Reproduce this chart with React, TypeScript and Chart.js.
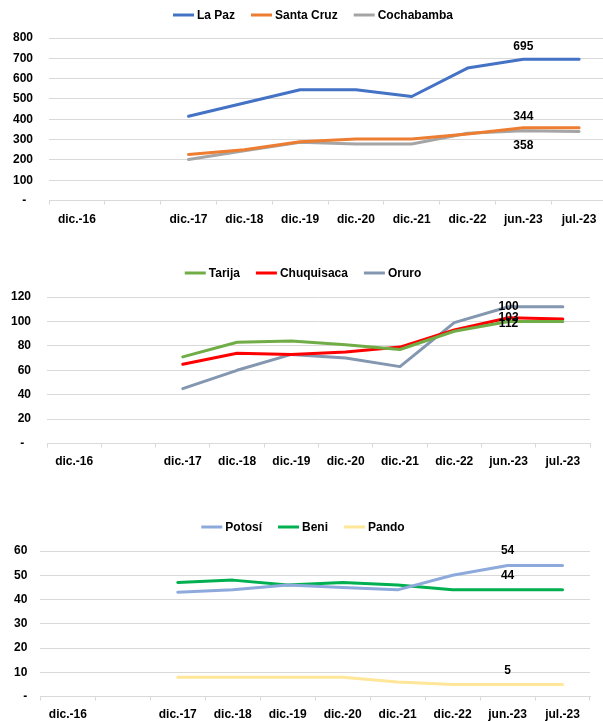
import React, { useEffect, useRef } from 'react';
import { Chart, registerables } from 'chart.js';

Chart.register(...registerables);

const FONT = "'Liberation Sans', Arial, sans-serif";

// ---------- data ----------
const categories = ['dic.-16', '', 'dic.-17', 'dic.-18', 'dic.-19', 'dic.-20', 'dic.-21', 'dic.-22', 'jun.-23', 'jul.-23'];

const laPaz = [null, null, 415, 480, 545, 545, 512, 652, 695, 695];
const santaCruz = [null, null, 227, 250, 290, 303, 303, 328, 358, 359];
const cochabamba = [null, null, 202, 245, 287, 278, 278, 331, 344, 340];

const tarija = [null, null, 71, 83, 84, 81, 77, 92, 100, 100];
const chuquisaca = [null, null, 65, 74, 73, 75, 79, 93, 103, 102];
const oruro = [null, null, 45, 60, 73, 70, 63, 99, 112, 112];

const potosi = [null, null, 43, 44, 46, 45, 44, 50, 54, 54];
const beni = [null, null, 47, 48, 46, 47, 46, 44, 44, 44];
const pando = [null, null, 8, 8, 8, 8, 6, 5, 5, 5];

const yMax1 = 800, yStep1 = 100;
const yMax2 = 120, yStep2 = 20;
const yMax3 = 60, yStep3 = 10;

// value labels: dataset index, category index, text
const labels1 = [
  { ds: 0, idx: 8, text: '695', dy: -13 },
  { ds: 2, idx: 8, text: '344', dy: -14 },
  { ds: 1, idx: 8, text: '358', dy: 18 },
];
const labels2 = [
  { ds: 2, idx: 8, text: '100', dy: 0 },
  { ds: 1, idx: 8, text: '103', dy: 0 },
  { ds: 0, idx: 8, text: '112', dy: 2 },
];
const labels3 = [
  { ds: 0, idx: 8, text: '54', dy: -15 },
  { ds: 1, idx: 8, text: '44', dy: -14 },
  { ds: 2, idx: 8, text: '5', dy: -14 },
];

// ---------- plugins ----------
const legendPlugin = {
  id: 'customLegend',
  afterDraw(chart: any, _a: any, opts: any) {
    const ctx = chart.ctx;
    ctx.save();
    ctx.font = `bold 12px ${FONT}`;
    const items = chart.data.datasets.map((d: any) => ({
      label: d.label,
      color: d.borderColor,
      w: ctx.measureText(d.label).width,
    }));
    const marker = 21, gap = 3, spacing = 16;
    const total = items.reduce((s: number, it: any) => s + marker + gap + it.w, 0) + spacing * (items.length - 1);
    let x = opts.centerX - total / 2;
    const y = opts.y;
    for (const it of items) {
      ctx.strokeStyle = it.color;
      ctx.lineWidth = 3;
      ctx.lineCap = 'butt';
      ctx.beginPath();
      ctx.moveTo(x, y);
      ctx.lineTo(x + marker, y);
      ctx.stroke();
      ctx.fillStyle = '#000';
      ctx.textAlign = 'left';
      ctx.textBaseline = 'middle';
      ctx.fillText(it.label, x + marker + gap, y + 0.5);
      x += marker + gap + it.w + spacing;
    }
    ctx.restore();
  },
};

const valueLabelPlugin = {
  id: 'valueLabels',
  afterDatasetsDraw(chart: any, _a: any, opts: any) {
    const ctx = chart.ctx;
    ctx.save();
    ctx.font = `bold 12px ${FONT}`;
    ctx.fillStyle = '#000';
    ctx.textAlign = 'center';
    ctx.textBaseline = 'middle';
    for (const a of opts.items || []) {
      const pt = chart.getDatasetMeta(a.ds).data[a.idx];
      if (!pt) continue;
      ctx.fillText(a.text, pt.x, pt.y + a.dy);
    }
    ctx.restore();
  },
};

type PanelProps = {
  width: number;
  height: number;
  series: { label: string; data: (number | null)[]; color: string }[];
  yMax: number;
  yStep: number;
  zero: string;
  items: any[];
  legendX: number;
  legendY: number;
  padding: { left: number; right: number; top: number; bottom: number };
  yPad: number;
  xPad: number;
};

function Panel(p: PanelProps) {
  const ref = useRef<HTMLCanvasElement>(null);
  useEffect(() => {
    if (!ref.current) return;
    const chart = new Chart(ref.current, {
      type: 'line',
      data: {
        labels: categories,
        datasets: p.series.map((s) => ({
          label: s.label,
          data: s.data,
          borderColor: s.color,
          backgroundColor: s.color,
          borderWidth: 3,
          pointRadius: 0,
          pointHoverRadius: 0,
          tension: 0,
          fill: false,
          spanGaps: false,
          borderJoinStyle: 'round',
          borderCapStyle: 'round',
        })),
      },
      options: {
        animation: false,
        responsive: false,
        maintainAspectRatio: false,
        events: [],
        layout: { padding: p.padding },
        plugins: {
          legend: { display: false },
          tooltip: { enabled: false },
          customLegend: { centerX: p.legendX, y: p.legendY },
          valueLabels: { items: p.items },
        } as any,
        scales: {
          x: {
            type: 'category',
            offset: true,
            grid: {
              display: true,
              offset: true,
              drawOnChartArea: false,
              drawTicks: true,
              tickLength: 4,
              color: '#d9d9d9',
            },
            border: { display: true, color: '#d9d9d9', width: 1 },
            ticks: {
              autoSkip: false,
              maxRotation: 0,
              minRotation: 0,
              padding: p.xPad,
              color: '#000',
              font: { family: FONT, size: 12, weight: 'bold' },
            },
          },
          y: {
            min: 0,
            max: p.yMax,
            grid: { color: '#d9d9d9', drawTicks: false, lineWidth: 1 },
            border: { display: false },
            ticks: {
              stepSize: p.yStep,
              padding: p.yPad,
              color: '#000',
              font: { family: FONT, size: 12, weight: 'bold' },
              callback: (v: any) => (Number(v) === 0 ? p.zero : String(v)),
            },
          },
        },
      } as any,
      plugins: [legendPlugin, valueLabelPlugin],
    });
    return () => chart.destroy();
  }, []);
  return <canvas ref={ref} width={p.width} height={p.height} style={{ display: 'block' }} />;
}

export default function App() {
  return (
    <div
      style={{
        position: 'fixed',
        left: 0,
        top: 0,
        width: 603,
        height: 721,
        overflow: 'hidden',
        background: '#fff',
      }}
    >
      <Panel
        width={609}
        height={240}
        series={[
          { label: 'La Paz', data: laPaz, color: '#4472C4' },
          { label: 'Santa Cruz', data: santaCruz, color: '#ED7D31' },
          { label: 'Cochabamba', data: cochabamba, color: '#A5A5A5' },
        ]}
        yMax={yMax1}
        yStep={yStep1}
        zero={'-  '}
        items={labels1}
        legendX={313}
        legendY={15}
        padding={{ left: -3, right: 2, top: 38, bottom: 5 }}
        yPad={16}
        xPad={8}
      />
      <Panel
        width={603}
        height={240}
        series={[
          { label: 'Tarija', data: tarija, color: '#70AD47' },
          { label: 'Chuquisaca', data: chuquisaca, color: '#FF0000' },
          { label: 'Oruro', data: oruro, color: '#8497B0' },
        ]}
        yMax={yMax2}
        yStep={yStep2}
        zero={'-  '}
        items={labels2}
        legendX={303}
        legendY={33}
        padding={{ left: -5, right: 13, top: 57, bottom: 4 }}
        yPad={16}
        xPad={7}
      />
      <Panel
        width={603}
        height={241}
        series={[
          { label: 'Potosí', data: potosi, color: '#8EA9DB' },
          { label: 'Beni', data: beni, color: '#00B050' },
          { label: 'Pando', data: pando, color: '#FFE699' },
        ]}
        yMax={yMax3}
        yStep={yStep3}
        zero={'-'}
        items={labels3}
        legendX={303}
        legendY={47}
        padding={{ left: 1, right: 13, top: 71, bottom: -8 }}
        yPad={13}
        xPad={7}
      />
    </div>
  );
}
